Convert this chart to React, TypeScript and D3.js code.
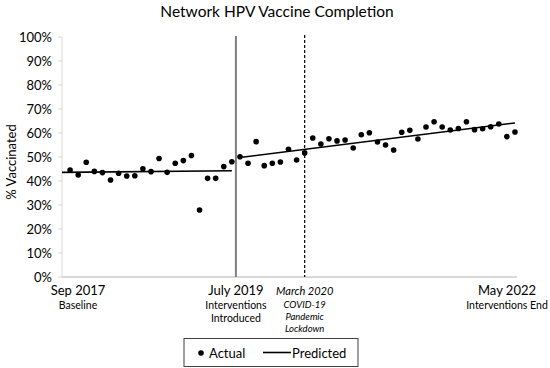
import React from "react";
import * as d3 from "d3";

// Monthly actual completion (%), Sep 2017 .. May 2022 as shown (56 points)
const actual: number[] = [
  44.6, 42.5, 47.8, 44.0, 43.5, 40.4, 43.2, 42.1, 42.2, 45.1, 43.9, 49.4, 43.6, 47.4, 48.5, 50.6, 27.9, 41.1, 41.1, 46.0, 48.0,
  50.1, 47.4, 56.4, 46.4, 47.4, 47.9, 53.2, 48.75, 51.7, 57.9, 55.4, 57.6, 56.7, 57.1, 53.75, 59.3, 60.1, 56.25, 55.0, 52.9,
  60.3, 61.1, 57.5, 62.5, 64.7, 62.5, 61.25, 61.9, 64.7, 61.4, 61.8, 62.6, 63.75, 58.5, 60.4,
];
// Predicted segments: [startIndex, endIndex], [startValue, endValue]
const predictedIdx: [number, number][] = [[-1, 20], [21, 55]];
const predictedVal: [number, number][] = [[43.6, 44.3], [49.8, 64.2]];

const yTicks = [0, 10, 20, 30, 40, 50, 60, 70, 80, 90, 100];
const interventionIdx = 20.5;
const covidIdx = 29;

const xLabels = [
  { idx: 0.95, main: "Sep 2017", sub: ["Baseline"], italic: false },
  { idx: 20.5, main: "July 2019", sub: ["Interventions", "Introduced"], italic: false },
  { idx: 29, main: "March 2020", sub: ["COVID-19", "Pandemic", "Lockdown"], italic: true },
  { idx: 54, main: "May 2022", sub: ["Interventions End"], italic: false },
];

const FONT = "Lato, 'Open Sans', sans-serif";

export default function App() {
  const W = 550, H = 368;
  const x = d3.scaleLinear().domain([-1, 55.25]).range([62, 517]);
  const y = d3.scaleLinear().domain([0, 100]).range([277, 37]);
  const line = d3.line<[number, number]>().x(d => x(d[0])).y(d => y(d[1]));

  return (
    <svg width={W} height={H} style={{ position: "absolute", left: 0, top: 0, background: "#fff" }} fontFamily={FONT}>
      <rect width={W} height={H} fill="#fff" />
      <text x={277} y={17} textAnchor="middle" fontSize={15.5} fill="#000">Network HPV Vaccine Completion</text>
      <text transform={`translate(16,162) rotate(-90)`} textAnchor="middle" fontSize={13} fill="#000">% Vaccinated</text>

      {/* y axis */}
      <line x1={62} x2={62} y1={y(100)} y2={y(0)} stroke="#d9d9d9" strokeWidth={1} />
      {yTicks.map(t => (
        <g key={t}>
          <line x1={58} x2={62} y1={y(t)} y2={y(t)} stroke="#d9d9d9" />
          <text x={52} y={y(t)} dy="0.35em" textAnchor="end" fontSize={13} fill="#000">{t}%</text>
        </g>
      ))}
      <line x1={62} x2={517} y1={y(0)} y2={y(0)} stroke="#d9d9d9" strokeWidth={2} />

      {/* reference lines */}
      <line x1={x(interventionIdx)} x2={x(interventionIdx)} y1={36} y2={y(0)} stroke="#7f7f7f" strokeWidth={2} />
      <line x1={x(covidIdx)} x2={x(covidIdx)} y1={35} y2={y(0)} stroke="#000" strokeWidth={1.2} strokeDasharray="3,2" />

      {/* predicted */}
      {predictedIdx.map((p, i) => (
        <path key={i} d={line([[p[0], predictedVal[i][0]], [p[1], predictedVal[i][1]]]) || ""} stroke="#000" strokeWidth={1.6} fill="none" />
      ))}
      {/* actual */}
      {actual.map((v, i) => (
        <circle key={i} cx={x(i)} cy={y(v)} r={2.8} fill="#000" />
      ))}

      {/* x labels */}
      {xLabels.map((l, i) => {
        const cx = i === 0 ? 78 : i === 3 ? 507 : x(l.idx);
        return (
          <g key={i}>
            <text x={cx} y={295} textAnchor="middle" fontSize={l.italic ? 11 : 13} fontStyle={l.italic ? "italic" : "normal"} fill="#000">{l.main}</text>
            {l.sub.map((s, j) => (
              <text key={j} x={cx} y={(l.italic ? 308 : 309) + j * (l.italic ? 12 : 13)} textAnchor="middle" fontSize={l.italic ? 9.5 : 10.5} fontStyle={l.italic ? "italic" : "normal"} fill="#000">{s}</text>
            ))}
          </g>
        );
      })}

      {/* legend */}
      <rect x={184} y={338.5} width={174} height={28} fill="#fff" stroke="#404040" strokeWidth={1} />
      <circle cx={201} cy={353} r={2.8} fill="#000" />
      <text x={209} y={353} dy="0.35em" fontSize={13} fill="#000">Actual</text>
      <line x1={263} x2={291} y1={352.5} y2={352.5} stroke="#000" strokeWidth={1.6} />
      <text x={292} y={353} dy="0.35em" fontSize={13} fill="#000">Predicted</text>
    </svg>
  );
}
